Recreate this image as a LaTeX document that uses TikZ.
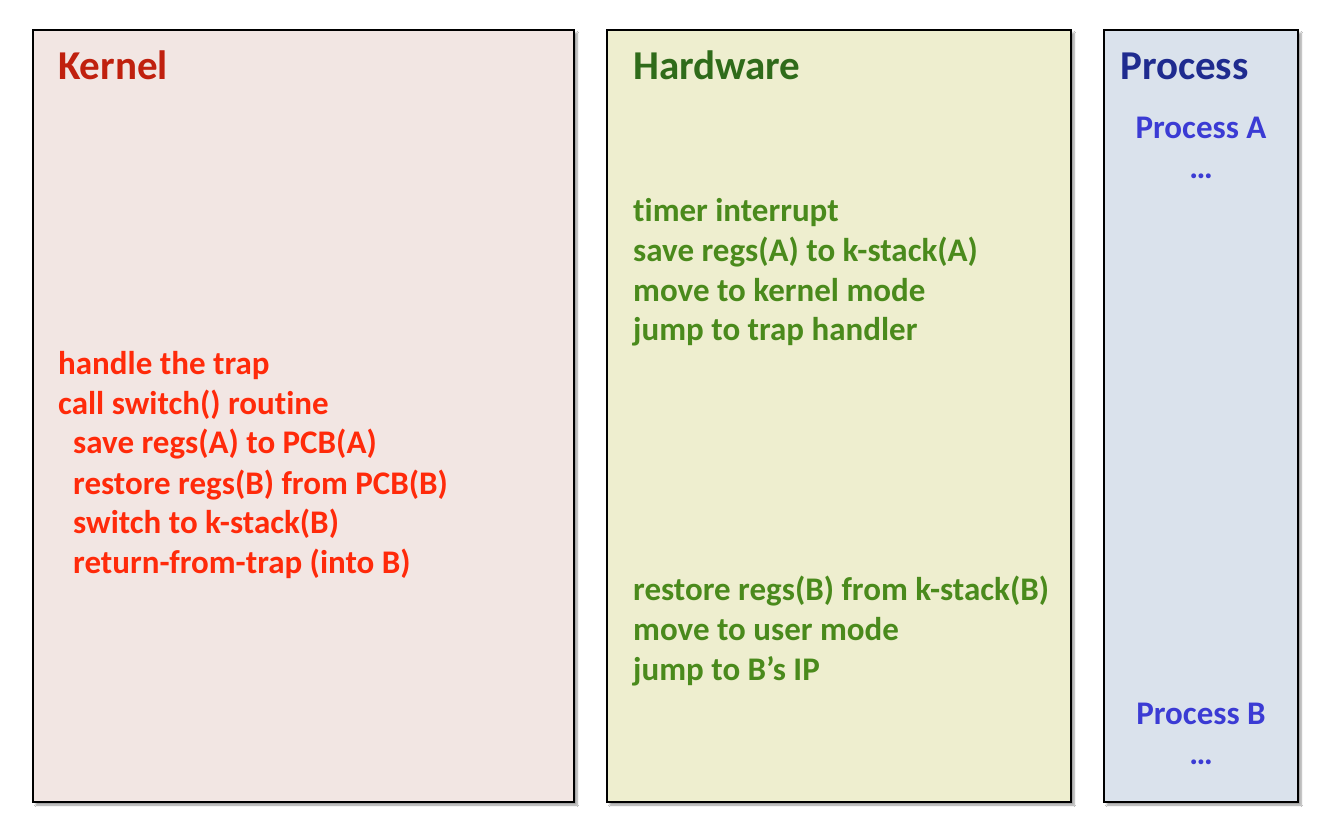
\documentclass[tikz,border=0pt]{standalone}
\usepackage{fontspec}
\setmainfont[Ligatures={NoCommon}]{Carlito}
\usetikzlibrary{shadows.blur}
\definecolor{kfill}{HTML}{F2E6E3}
\definecolor{hfill}{HTML}{EEEECF}
\definecolor{pfill}{HTML}{DAE2EC}
\definecolor{ktitle}{HTML}{C0200E}
\definecolor{kbody}{HTML}{FF2A0A}
\definecolor{htitle}{HTML}{2F6B1A}
\definecolor{hbody}{HTML}{4A8A1C}
\definecolor{ptitle}{HTML}{1F2B8F}
\definecolor{pbody}{HTML}{3B3BD4}
\tikzset{
  panel/.style={draw=black, line width=2bp,
    blur shadow={shadow xshift=3bp, shadow yshift=-3bp, shadow blur steps=6, shadow opacity=40}},
  title/.style={anchor=base west, inner sep=0, font=\fontsize{41bp}{49bp}\selectfont\bfseries},
  body/.style={anchor=base west, inner sep=0, font=\fontsize{33bp}{40bp}\selectfont\bfseries},
  cbody/.style={anchor=base, inner sep=0, font=\fontsize{33bp}{40bp}\selectfont\bfseries},
}
\begin{document}
\begin{tikzpicture}[x=1bp, y=-1bp]
\useasboundingbox[fill=white] (0,0) rectangle (1335,837);
% panels
\draw[panel, fill=kfill] (33,30) rectangle (574,802);
\draw[panel, fill=hfill] (607,30) rectangle (1071,802);
\draw[panel, fill=pfill] (1104,30) rectangle (1298,802);
% titles
\node[title, text=ktitle] (kt) at (58,79) {Kernel};
\node[title, text=htitle] (ht) at (633,79) {Hardware};
\node[title, text=ptitle] (pt) at (1120,79) {Process};
% kernel body
\node[body, text=kbody] (k1) at (58,374) {handle the trap};
\node[body, text=kbody] (k2) at (58,414) {call switch() routine};
\node[body, text=kbody] (k3) at (73,453) {save regs(A) to PCB(A)};
\node[body, text=kbody] (k4) at (73,494) {restore regs(B) from PCB(B)};
\node[body, text=kbody] (k5) at (73,533) {switch to k-stack(B)};
\node[body, text=kbody] (k6) at (73,573) {return-from-trap (into B)};
% hardware body
\node[body, text=hbody] (h1) at (633,221) {timer interrupt};
\node[body, text=hbody] (h2) at (633,261) {save regs(A) to k-stack(A)};
\node[body, text=hbody] (h3) at (633,301) {move to kernel mode};
\node[body, text=hbody] (h4) at (633,340) {jump to trap handler};
\node[body, text=hbody] (h5) at (633,600) {restore regs(B) from k-stack(B)};
\node[body, text=hbody] (h6) at (633,640) {move to user mode};
\node[body, text=hbody] (h7) at (633,680) {jump to B’s IP};
% process body
\node[cbody, text=pbody] (pa) at (1201,138) {Process A};
\node[cbody, text=pbody] (pad) at (1201,178) {…};
\node[cbody, text=pbody] (pb) at (1201,724) {Process B};
\node[cbody, text=pbody] (pbd) at (1201,764) {…};
\end{tikzpicture}
\end{document}
